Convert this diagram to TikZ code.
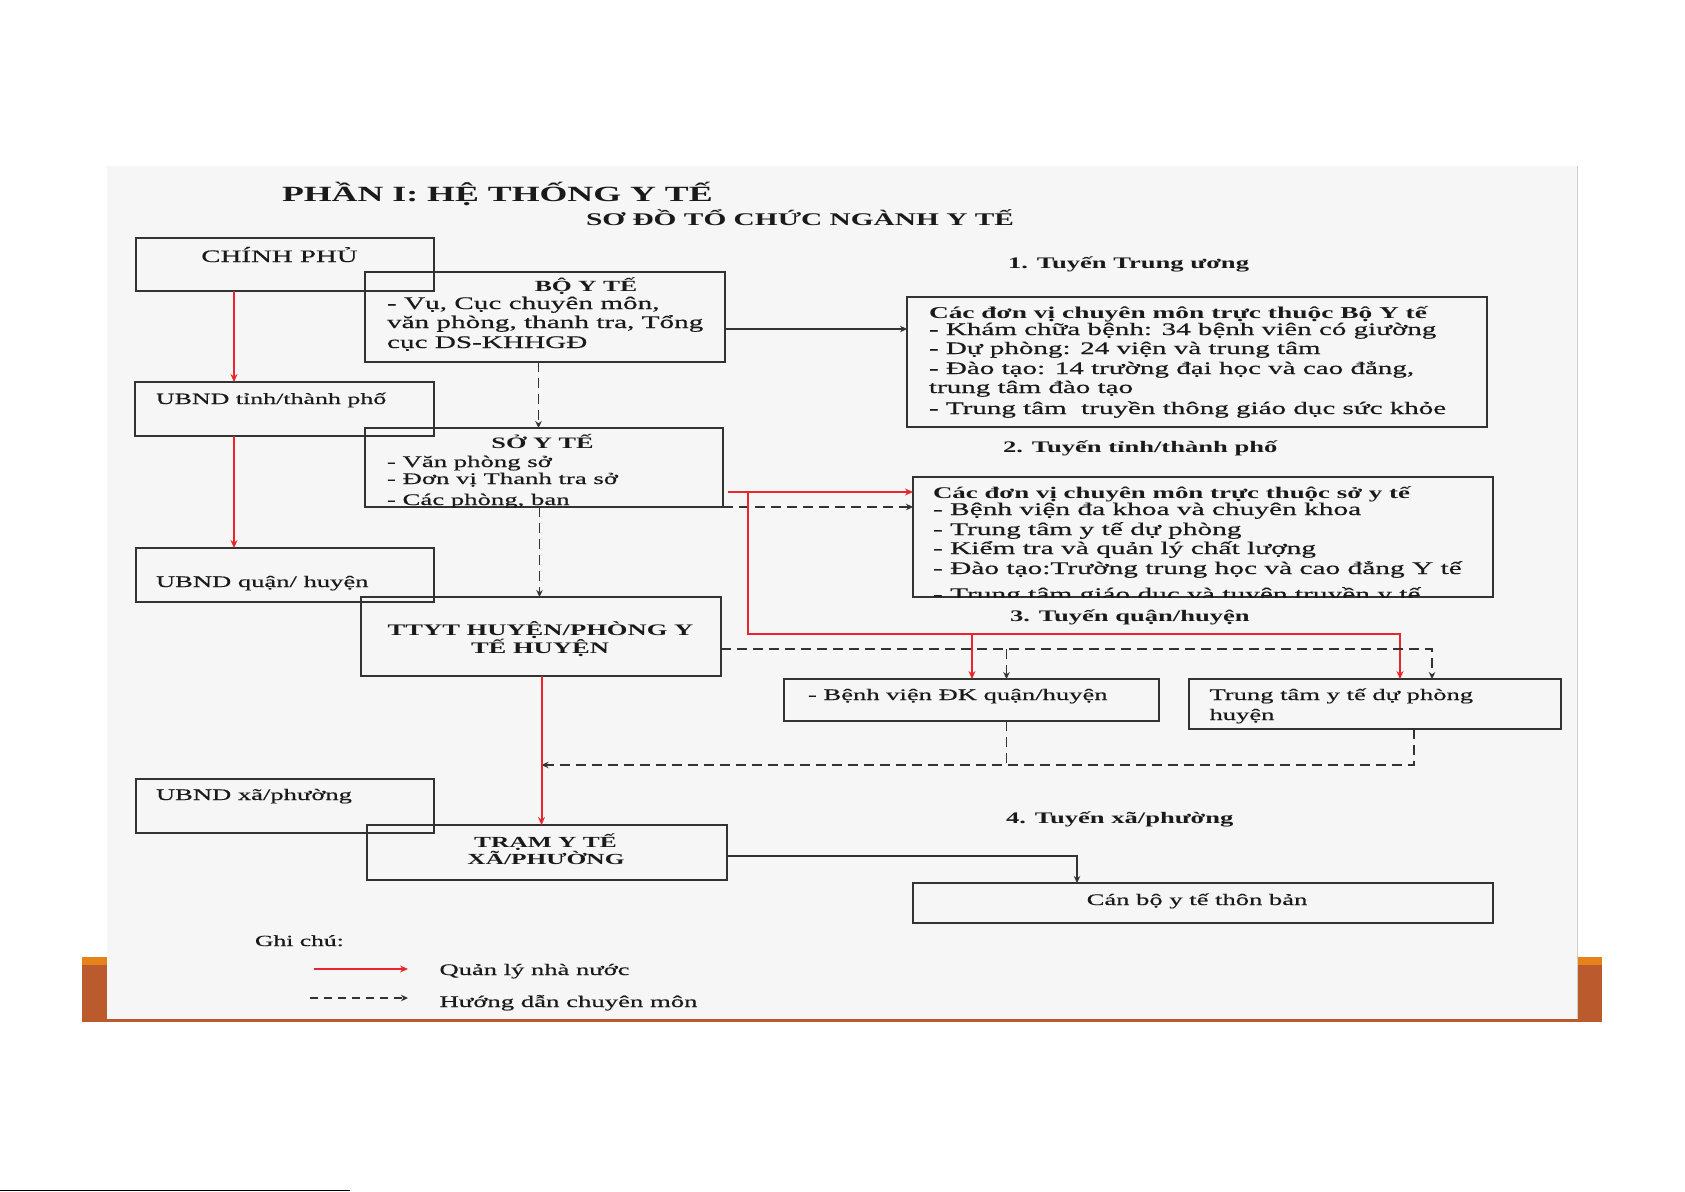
\documentclass[tikz,border=0pt]{standalone}
\usepackage{fontspec}
\setmainfont{Liberation Serif}[FakeStretch=1.65, UprightFeatures={FakeBold=0.5}]
\usetikzlibrary{arrows.meta,calc}
\definecolor{panel}{HTML}{F6F6F6}
\definecolor{boxc}{HTML}{333333}
\definecolor{txtc}{HTML}{1A1A1A}
\definecolor{redc}{HTML}{E8262B}
\definecolor{orlight}{HTML}{E6821A}
\definecolor{ordark}{HTML}{BB5A2D}
\definecolor{edgec}{HTML}{CFCFCF}
\newcommand\fsz[1]{\fontsize{#1}{#1}\selectfont}
\newcommand\mkbox[5]{\node[box, minimum width={#4-#2}, minimum height={#5-#3}] (#1) at ({(#2+#4)/2},{(#3+#5)/2}) {};}
\begin{document}
\begin{tikzpicture}[x=1pt,y=-1pt,
  box/.style={draw=boxc, line width=2pt, rectangle, inner sep=0pt, outer sep=0pt},
  lbl/.style={inner sep=0pt, outer sep=0pt, anchor=base west, text=txtc},
  clbl/.style={inner sep=0pt, outer sep=0pt, anchor=base, text=txtc},
  redarr/.style={draw=redc, line width=2pt, -{Stealth[length=8pt,width=7pt]}},
  dasharr/.style={draw=boxc, line width=1.9pt, dash pattern=on 10pt off 6pt, -{Stealth[length=7pt,width=6.5pt]}},
  dashln/.style={draw=boxc, line width=1.9pt, dash pattern=on 10pt off 6pt},
  blkarr/.style={draw=boxc, line width=1.9pt, -{Stealth[length=7pt,width=6.5pt]}},
]
\useasboundingbox (0,0) rectangle (1685,1191);
\fill[white] (0,0) rectangle (1685,1191);
% slide decoration
\fill[orlight] (82,957) rectangle (107,965);
\fill[ordark] (82,965) rectangle (107,1022);
\fill[orlight] (1577,957) rectangle (1602,965);
\fill[ordark] (1577,965) rectangle (1602,1022);
\fill[ordark] (107,1019) rectangle (1577,1022);
\fill[panel] (107,166) rectangle (1577,1019);
\draw[edgec, line width=1pt] (1577,166) -- (1577,1019);
\draw[black, line width=1pt] (0,1190) -- (350,1190);

% boxes
\mkbox{cp}{136}{238}{434}{291}
\mkbox{bo}{365}{272}{725}{362}
\mkbox{ubt}{135}{382}{434}{436}
\mkbox{so}{365}{428}{723}{507}
\mkbox{ubq}{136}{548}{434}{602}
\mkbox{tt}{361}{597}{721}{676}
\mkbox{ubx}{136}{779}{434}{833}
\mkbox{tr}{367}{825}{727}{880}
\mkbox{tw}{907}{297}{1487}{427}
\mkbox{tinh}{913}{477}{1493}{597}
\mkbox{bv}{784}{679}{1159}{721}
\mkbox{dp}{1189}{679}{1561}{729}
\mkbox{cb}{913}{883}{1493}{923}

% titles
\node[lbl, font=\bfseries\fsz{21.7}] (title) at (282,201) {PHẦN I: HỆ THỐNG Y TẾ};
\node[lbl, font=\bfseries\fsz{17.8}] (subtitle) at (586,225) {SƠ ĐỒ TỔ CHỨC NGÀNH Y TẾ};

% left column texts
\node[clbl, font=\fsz{17.5}] (tcp) at (279.5,262) {CHÍNH PHỦ};
\node[clbl, font=\bfseries\fsz{15.5}] (tbo) at (586,291) {BỘ Y TẾ};
\node[lbl, font=\fsz{17.7}] (tbo1) at (387,309) {- Vụ, Cục chuyên môn,};
\node[lbl, font=\fsz{17.7}] (tbo2) at (387,328) {văn phòng, thanh tra, Tổng};
\node[lbl, font=\fsz{17.7}] (tbo3) at (387,348) {cục DS-KHHGĐ};
\node[lbl, font=\fsz{15.7}] (tubt) at (156,404) {UBND tỉnh/thành phố};
\node[clbl, font=\bfseries\fsz{15.9}] (tso) at (542.5,448) {SỞ Y TẾ};
\node[lbl, font=\fsz{16.2}] (tso1) at (387,467) {- Văn phòng sở};
\node[lbl, font=\fsz{16.2}] (tso2) at (387,484) {- Đơn vị Thanh tra sở};
\begin{scope}
\clip (so.north west) rectangle (so.south east);
\node[lbl, font=\fsz{16.2}] (tso3) at (387,505) {- Các phòng, ban};
\end{scope}
\node[lbl, font=\fsz{16.1}] (tubq) at (156,587) {UBND quận/ huyện};
\node[clbl, font=\bfseries\fsz{16.1}] (ttt1) at (540.5,635) {TTYT HUYỆN/PHÒNG Y};
\node[clbl, font=\bfseries\fsz{16.1}] (ttt2) at (540,653) {TẾ HUYỆN};
\node[lbl, font=\fsz{16.1}] (tubx) at (156,800) {UBND xã/phường};
\node[clbl, font=\bfseries\fsz{15.4}] (ttr1) at (545.5,847) {TRẠM Y TẾ};
\node[clbl, font=\bfseries\fsz{15.4}] (ttr2) at (546,864) {XÃ/PHƯỜNG};

% level labels
\node[lbl, font=\bfseries\fsz{16.1}] (lv1) at (1008,268) {1. Tuyến Trung ương};
\node[lbl, font=\bfseries\fsz{16.1}] (lv2) at (1003,452) {2. Tuyến tỉnh/thành phố};
\node[lbl, font=\bfseries\fsz{16.1}] (lv3) at (1010,621) {3. Tuyến quận/huyện};
\node[lbl, font=\bfseries\fsz{16.1}] (lv4) at (1006,823) {4. Tuyến xã/phường};

% central level box
\node[lbl, font=\bfseries\fsz{16.6}] (tw0) at (929,318) {Các đơn vị chuyên môn trực thuộc Bộ Y tế};
\node[lbl, font=\fsz{17.6}] (tw1) at (929,335) {- Khám chữa bệnh: 34 bệnh viên có giường};
\node[lbl, font=\fsz{17.6}] (tw2) at (929,354) {- Dự phòng: 24 viện và trung tâm};
\node[lbl, font=\fsz{17.6}] (tw3) at (929,374) {- Đào tạo: 14 trường đại học và cao đẳng,};
\node[lbl, font=\fsz{17.6}] (tw4) at (929,393) {trung tâm đào tạo};
\node[lbl, font=\fsz{17.6}] (tw5) at (929,414) {- Trung tâm\ \ truyền thông giáo dục sức khỏe};

% provincial level box
\node[lbl, font=\bfseries\fsz{16.3}] (tp0) at (933,498) {Các đơn vị chuyên môn trực thuộc sở y tế};
\node[lbl, font=\fsz{17.8}] (tp1) at (933,515) {- Bệnh viện đa khoa và chuyên khoa};
\node[lbl, font=\fsz{17.8}] (tp2) at (933,535) {- Trung tâm y tế dự phòng};
\node[lbl, font=\fsz{17.8}] (tp3) at (933,554) {- Kiểm tra và quản lý chất lượng};
\node[lbl, font=\fsz{17.8}] (tp4) at (933,574) {- Đào tạo:Trường trung học và cao đẳng Y tế};
\begin{scope}
\clip (tinh.north west) rectangle (tinh.south east);
\node[lbl, font=\fsz{17.8}] (tp5) at (933,600) {- Trung tâm giáo dục và tuyên truyền y tế};
\end{scope}

% district / commune boxes
\node[lbl, font=\fsz{16.1}] (tbv) at (808,700) {- Bệnh viện ĐK quận/huyện};
\node[lbl, font=\fsz{16.1}] (tdp1) at (1209.5,700) {Trung tâm y tế dự phòng};
\node[lbl, font=\fsz{16.1}] (tdp2) at (1209.5,720) {huyện};
\node[clbl, font=\fsz{16.1}] (tcb) at (1197,905) {Cán bộ y tế thôn bản};

% legend
\node[lbl, font=\fsz{15.5}] (gc) at (255,946) {Ghi chú:};
\node[lbl, font=\fsz{16.1}] (lg1) at (439.5,975) {Quản lý nhà nước};
\node[lbl, font=\fsz{16.2}] (lg2) at (439.5,1007) {Hướng dẫn chuyên môn};
\coordinate (lr1) at (314,969); \coordinate (lr2) at (408,969);
\draw[redarr, line width=1.5pt] (lr1) -- (lr2);
\coordinate (ld1) at (310,998); \coordinate (ld2) at (408,998);
\draw[dasharr, line width=1.5pt, dash pattern=on 8pt off 6pt] (ld1) -- (ld2);

% connectors
\coordinate (xl) at (234,0);
\draw[redarr] (cp.south -| xl) -- (ubt.north -| xl);
\draw[redarr] (ubt.south -| xl) -- (ubq.north -| xl);
\coordinate (xbo) at (538.5,0);
\draw[dasharr] (bo.south -| xbo) -- (so.north -| xbo);
\coordinate (xso) at (539.5,0);
\draw[dasharr] (so.south -| xso) -- (tt.north -| xso);
\coordinate (ybt) at (0,329);
\draw[blkarr] (bo.east |- ybt) -- (tw.west |- ybt);
\coordinate (rs) at (728,492);
\draw[redarr] (rs) -- (tinh.west |- rs);
\draw[dasharr] (so.south east) -- (tinh.west |- so.south east);
\coordinate (rj) at (748,492);
\coordinate (rh) at (0,634);
\coordinate (xdp) at (1400,0);
\coordinate (xbv) at (972,0);
\draw[redarr] (rj) |- (rh -| xdp) -- (dp.north -| xdp);
\draw[redarr] (rh -| xbv) -- (bv.north -| xbv);
\coordinate (dh) at (0,649);
\coordinate (xdd) at (1432,0);
\coordinate (xbd) at (1006.5,0);
\draw[dasharr] (tt.east |- dh) -| (dp.north -| xdd);
\draw[dasharr] (dh -| xbd) -- (bv.north -| xbd);
\coordinate (lb) at (0,765);
\coordinate (xdb) at (1414,0);
\coordinate (xred) at (541.5,0);
\draw[dashln] (bv.south -| xbd) -- (lb -| xbd);
\draw[dasharr] (dp.south -| xdb) |- (lb -| xred);
\draw[redarr] (tt.south -| xred) -- (tr.north -| xred);
\coordinate (ytr) at (0,856);
\coordinate (xcb) at (1077,0);
\draw[blkarr] (tr.east |- ytr) -| (cb.north -| xcb);
\end{tikzpicture}
\end{document}
